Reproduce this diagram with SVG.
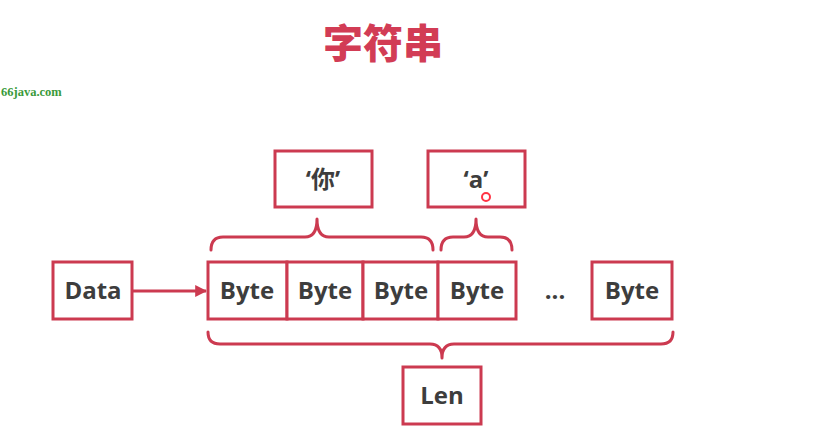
<svg xmlns="http://www.w3.org/2000/svg" width="814" height="446" viewBox="0 0 814 446">
<defs>
<style>
.box{fill:#fff;stroke:#cc3a50;stroke-width:3}
.lbl{font-family:"Open Sans","Noto Sans CJK SC",sans-serif;font-weight:bold;font-size:24px;fill:#3d3d3d;text-anchor:middle}
.brace{fill:none;stroke:#cc3a50;stroke-width:3;stroke-linecap:round;stroke-linejoin:round}
</style>
<marker id="arr" viewBox="0 0 10 10" refX="9" refY="5" markerWidth="4" markerHeight="4" orient="auto" markerUnits="strokeWidth">
<path d="M0,0 L10,5 L0,10 z" fill="#cc3a50"/>
</marker>
</defs>
<rect width="814" height="446" fill="#fff"/>
<text x="383" y="58" font-family="'Noto Sans CJK SC',sans-serif" font-weight="900" font-size="40" fill="#d23c55" text-anchor="middle">字符串</text>
<text x="1" y="96" font-family="'Liberation Serif',serif" font-weight="bold" font-size="12.5" fill="#3a9a3a">66java.com</text>
<g id="char-ni"><rect class="box" x="275" y="151" width="97" height="56"/><text class="lbl" x="323" y="188">‘你’</text></g>
<g id="char-a"><rect class="box" x="428" y="151" width="97" height="56"/><text class="lbl" x="476" y="188">‘a’</text></g>
<g id="data"><rect class="box" x="53" y="262" width="79" height="57"/><text class="lbl" x="93" y="299">Data</text></g>
<g id="byte1"><rect class="box" x="208" y="262" width="79" height="57"/><text class="lbl" x="247" y="299">Byte</text></g>
<g id="byte2"><rect class="box" x="287" y="262" width="76" height="57"/><text class="lbl" x="325" y="299">Byte</text></g>
<g id="byte3"><rect class="box" x="363" y="262" width="75" height="57"/><text class="lbl" x="401" y="299">Byte</text></g>
<g id="byte4"><rect class="box" x="438" y="262" width="78" height="57"/><text class="lbl" x="477" y="299">Byte</text></g>
<g id="dots"><text class="lbl" x="555" y="299">...</text></g>
<g id="byteN"><rect class="box" x="592" y="262" width="80" height="57"/><text class="lbl" x="632" y="299">Byte</text></g>
<g id="len"><rect class="box" x="403" y="367" width="78" height="57"/><text class="lbl" x="442" y="404">Len</text></g>
<g id="connectors">
<line x1="132" y1="291" x2="206" y2="291" stroke="#cc3a50" stroke-width="3" marker-end="url(#arr)"/>
<path class="brace" d="M211,250 Q211,237 223,237 L305,237 Q317,237 317,219 Q317,237 329,237 L421,237 Q433,237 433,250"/>
<path class="brace" d="M441,250 Q441,237 453,237 L464,237 Q476,237 476,219 Q476,237 488,237 L500,237 Q512,237 512,250"/>
<path class="brace" d="M208,332 Q208,344 220,344 L430,344 Q442,344 442,358 Q442,344 454,344 L661,344 Q673,344 673,332"/>
</g>
<circle cx="486" cy="197" r="4" fill="none" stroke="#ff3344" stroke-width="2"/>
</svg>
